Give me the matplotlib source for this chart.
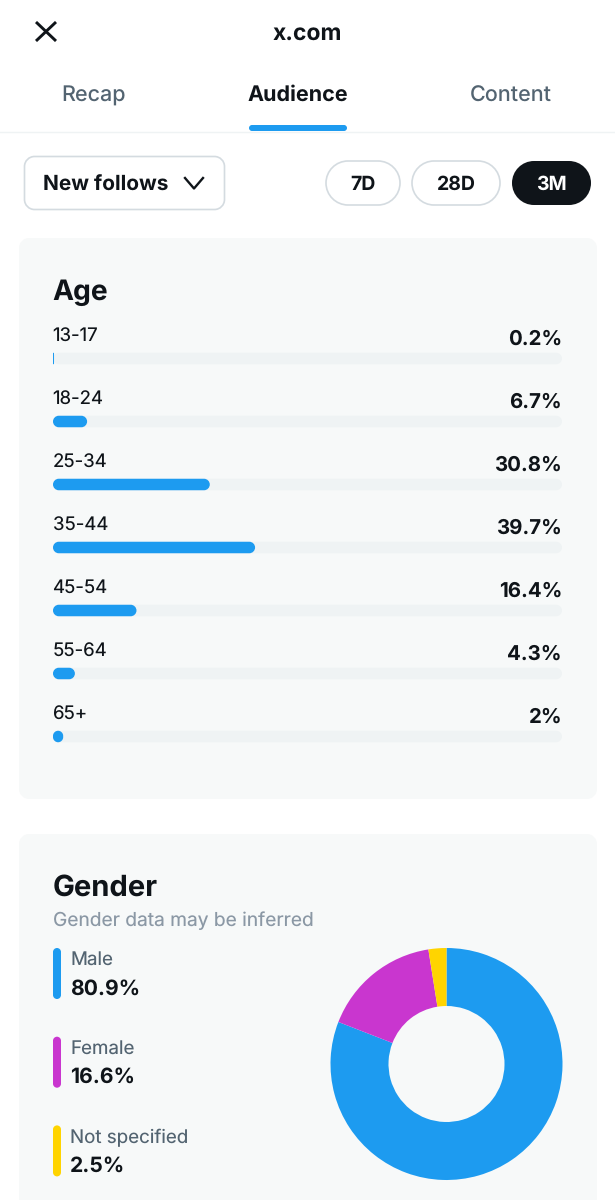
import matplotlib
matplotlib.use("Agg")
import matplotlib.pyplot as plt
from matplotlib.patches import PathPatch
from matplotlib.path import Path

plt.rcParams['font.family'] = ['Inter', 'DejaVu Sans']
plt.rcParams['text.hinting'] = 'no_hinting'
plt.rcParams['text.hinting_factor'] = 1

age_groups = ['13-17', '18-24', '25-34', '35-44', '45-54', '55-64', '65+']
age_labels = ['0.2%', '6.7%', '30.8%', '39.7%', '16.4%', '4.3%', '2%']
age_values = [0.2, 6.7, 30.8, 39.7, 16.4, 4.3, 2.0]
gender_names = ['Male', 'Female', 'Not specified']
gender_labels = ['80.9%', '16.6%', '2.5%']
gender_values = [80.9, 16.6, 2.5]
gender_colors = ['#1d9bf0', '#c936cf', '#ffd400']
tabs = ['Recap', 'Audience', 'Content']
ranges = ['7D', '28D', '3M']

W, H = 615, 1200
fig = plt.figure(figsize=(W/100, H/100), dpi=100, facecolor='white')
bg = fig.add_axes([0, 0, 1, 1])
bg.set_xlim(0, W); bg.set_ylim(H, 0); bg.axis('off')

INK = '#0f1419'; GREY = '#536471'; BLUE = '#1d9bf0'
K = 0.5523

def round_path(x, y, w, h, rx, ry):
    a, b = rx*(1-K), ry*(1-K)
    x1, y1 = x+w, y+h
    v = [(x+rx, y), (x1-rx, y), (x1-a, y), (x1, y+b), (x1, y+ry),
         (x1, y1-ry), (x1, y1-b), (x1-a, y1), (x1-rx, y1),
         (x+rx, y1), (x+a, y1), (x, y1-b), (x, y1-ry),
         (x, y+ry), (x, y+b), (x+a, y), (x+rx, y), (x+rx, y)]
    c = [Path.MOVETO, Path.LINETO, Path.CURVE4, Path.CURVE4, Path.CURVE4,
         Path.LINETO, Path.CURVE4, Path.CURVE4, Path.CURVE4,
         Path.LINETO, Path.CURVE4, Path.CURVE4, Path.CURVE4,
         Path.LINETO, Path.CURVE4, Path.CURVE4, Path.CURVE4, Path.CLOSEPOLY]
    return Path(v, c)

def rbox(x, y, w, h, r, fc, ec='none', lw=0, z=1):
    bg.add_patch(PathPatch(round_path(x, y, w, h, r, r), fc=fc, ec=ec, lw=lw, zorder=z))

# header
bg.plot([36, 56], [22, 41], color=INK, lw=2.1, solid_capstyle='butt')
bg.plot([36, 56], [41, 22], color=INK, lw=2.1, solid_capstyle='butt')
bg.text(307, 34, 'x.com', ha='center', va='center', fontsize=16.5, fontweight='bold', color=INK)
for t, x, c, w, yy in zip(tabs, [94, 298, 511], [GREY, INK, GREY], ['medium', 'bold', 'medium'], [96, 95, 96]):
    bg.text(x, yy, t, ha='center', va='center', fontsize=15.5, color=c, fontweight=w)
rbox(249, 125, 98, 6, 3, BLUE)
bg.plot([0, W], [131.5, 131.5], color='#eff3f4', lw=1)

# controls
rbox(24.5, 156.5, 200, 53, 10, 'white', '#d4dbe0', 1.2)
bg.text(43, 185, 'New follows', ha='left', va='center', fontsize=15, fontweight='bold', color=INK)
bg.plot([185, 194, 203], [178, 188.5, 178], color=INK, lw=1.7)
for t, x, w, dark in zip(ranges, [326, 412, 512], [74, 88, 79], [False, False, True]):
    rbox(x, 161, w, 44, 22, INK if dark else 'white', 'none' if dark else '#d4dbe0', 0 if dark else 1.2)
    bg.text(x+w/2, 185, t, ha='center', va='center', fontsize=14, fontweight='bold',
            color='white' if dark else INK)

# cards
rbox(19, 238, 578, 561, 10, '#f7f9f9')
rbox(19, 834, 578, 380, 10, '#f7f9f9')
bg.text(52.5, 293, 'Age', ha='left', va='center', fontsize=20.3, fontweight='bold', color=INK)
bg.text(53, 888, 'Gender', ha='left', va='center', fontsize=21, fontweight='bold', color=INK)
bg.text(53, 921, 'Gender data may be inferred', ha='left', va='center', fontsize=13.8, color='#8b98a5')

# age bars on a data axis: x in percent, track spans 0..100, one y unit = 63 px
bax = fig.add_axes([53/W, 1-768/H, (562-53)/W, 441/H])
bax.set_xlim(0, 100); bax.set_ylim(len(age_groups)-0.5, -0.5); bax.axis('off')
bax.patch.set_alpha(0)
PX = 100/509; PY = 1/63
bar_h = 11.5*PY
ypos = list(range(len(age_groups)))
for y, v in zip(ypos, age_values):
    bax.add_patch(PathPatch(round_path(0, y-bar_h/2, 100, bar_h, 5.75*PX, 5.75*PY),
                            fc='#eff3f4', ec='none', zorder=1))
    frac = min(1.0, v/(bar_h/PY*PX))
    rx = 5.75*PX*frac; ry = 5.75*PY*frac
    bax.add_patch(PathPatch(round_path(0, y-bar_h/2, v, bar_h, rx, ry), fc=BLUE, ec='none', zorder=2, snap=False))
for y, name, lab in zip(ypos, age_groups, age_labels):
    bg.text(52.5, 336+63*y, name, ha='left', va='center', fontsize=13.4, color=INK, zorder=5)
    bg.text(562, 339.5+63*y, lab, ha='right', va='center', fontsize=14.7, fontweight='bold', color=INK, zorder=5)

# gender legend
for i, (n, l, c) in enumerate(zip(gender_names, gender_labels, gender_colors)):
    y0 = 948 + 88.7*i
    rbox(53, y0, 8, 51, 4, c)
    bg.text(70, y0+12, n, ha='left', va='center', fontsize=13.5, color=GREY)
    bg.text(70, y0+41, l, ha='left', va='center', fontsize=15.2, fontweight='bold', color=INK)

# donut
pax = fig.add_axes([330.5/W, 1-1180/H, 232/W, 232/H])
pax.pie(gender_values, colors=gender_colors, startangle=90, counterclock=False, radius=1,
        wedgeprops=dict(width=0.5, edgecolor='white', linewidth=0))
pax.set_xlim(-1, 1); pax.set_ylim(-1, 1)
fig.savefig('out.png', dpi=100)
